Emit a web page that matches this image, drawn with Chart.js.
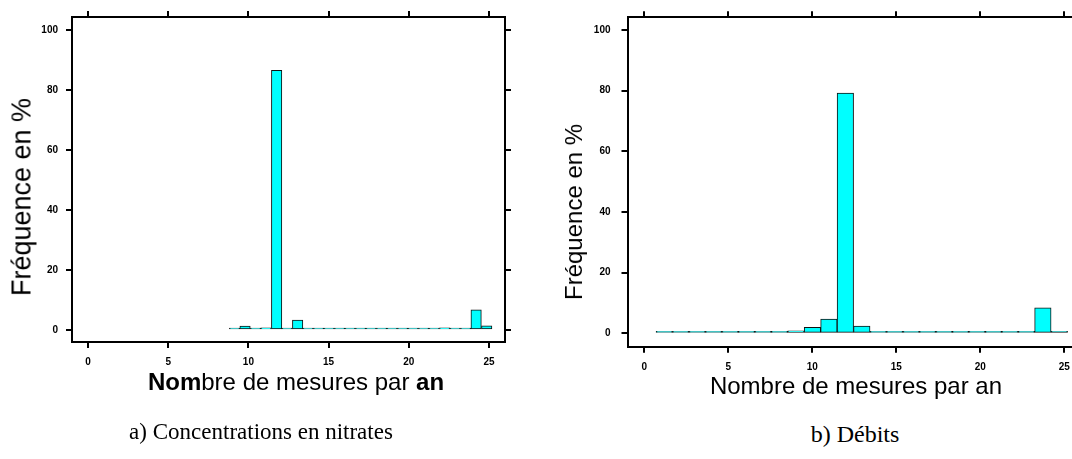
<!DOCTYPE html>
<html>
<head>
<meta charset="utf-8">
<script src="https://cdn.jsdelivr.net/npm/chart.js@4"></script>
<style>
  body { margin: 0; width: 1072px; height: 459px; overflow: hidden; background: #fff; position: relative; }
  canvas { position: absolute; top: 0; }
  .txt { position: absolute; white-space: nowrap; color: #000; transform: translate(-50%, -50%); }
  .sans { font-family: "Liberation Sans", Arial, sans-serif; }
  .serif { font-family: "Liberation Serif", "Times New Roman", serif; }
  .rot { transform: translate(-50%, -50%) rotate(-90deg); }
</style>
</head>
<body>
<canvas id="nitrates" width="536" height="380" style="left:0"></canvas>
<canvas id="debits" width="540" height="380" style="left:560px"></canvas>

<div class="txt sans rot" style="left:22px; top:197px; font-size:27px;">Fréquence en %</div>
<div class="txt sans" style="left:296px; top:382px; font-size:24px;"><b>Nom</b>bre de mesures par <b>an</b></div>
<div class="txt serif" style="left:261px; top:432px; font-size:23px;">a) Concentrations en nitrates</div>

<div class="txt sans rot" style="left:574px; top:212px; font-size:24px;">Fréquence en %</div>
<div class="txt sans" style="left:856px; top:386px; font-size:24px;">Nombre de mesures par an</div>
<div class="txt serif" style="left:855px; top:434px; font-size:24px;">b) Débits</div>

<script>
// tick labels shared by both histograms
const xTicks = [0, 5, 10, 15, 20, 25];
const yTicks = [0, 20, 40, 60, 80, 100];

// a) nitrates : bin centres and frequency (%)
const nitrateBins = [9.14, 9.79, 10.45, 11.10, 11.76, 12.41, 13.07, 13.72, 14.38, 15.03, 15.69, 16.34, 17.00,
  17.65, 18.31, 18.96, 19.62, 20.27, 20.93, 21.58, 22.24, 22.89, 23.55, 24.20, 24.86];
const nitrateFreq = [0.3, 1.3, 0.1, 0.7, 86.5, 0.1, 3.3, 0.1, 0.1, 0.1, 0.1, 0.1, 0.1,
  0.1, 0.1, 0.2, 0.1, 0.3, 0.1, 0.1, 0.7, 0.1, 0.1, 6.7, 1.4];

// b) debits : bin centres and frequency (%)
const debitBins = [1.19, 2.17, 3.15, 4.13, 5.11, 6.09, 7.07, 8.05, 9.03, 10.01, 10.99, 11.97, 12.95,
  13.93, 14.91, 15.89, 16.87, 17.85, 18.83, 19.81, 20.79, 21.77, 22.75, 23.73, 24.71];
const debitFreq = [0.3, 0.2, 0.1, 0.1, 0.2, 0.3, 0.3, 0.4, 0.8, 2.0, 4.7, 79.2, 2.4,
  0.1, 0.1, 0.1, 0.1, 0.4, 0.2, 0.2, 0.4, 0.1, 0.2, 8.4, 0.7];

function fixTicks(list) {
  return axis => { axis.ticks = list.map(v => ({ value: v })); };
}

function axis(pos, min, max, list, size, showLabels, pad) {
  const horizontal = pos === 'top' || pos === 'bottom';
  return {
    type: 'linear',
    position: pos,
    min: min,
    max: max,
    offset: false,
    afterBuildTicks: fixTicks(list),
    afterFit: s => { if (horizontal) s.height = size; else s.width = size; },
    grid: { offset: false, drawOnChartArea: false, drawTicks: true, tickLength: 6, color: '#000', lineWidth: 2 },
    border: { display: true, color: '#000', width: 2 },
    ticks: {
      display: showLabels,
      color: '#000',
      padding: pad,
      maxRotation: 0,
      autoSkip: false,
      font: { family: '"Liberation Sans", Arial, sans-serif', size: 10, weight: 'bold' }
    }
  };
}

function histogram(id, bins, freq, box) {
  const points = bins.map((b, i) => ({ x: b, y: freq[i] }));
  return new Chart(document.getElementById(id), {
    type: 'bar',
    data: {
      datasets: [{
        data: points,
        backgroundColor: '#00ffff',
        borderColor: '#111',
        borderWidth: 1,
        borderSkipped: false,
        minBarLength: 2,
        barPercentage: 1,
        categoryPercentage: 1
      }]
    },
    options: {
      responsive: false,
      animation: false,
      devicePixelRatio: 1,
      layout: { padding: 0 },
      plugins: { legend: { display: false }, tooltip: { enabled: false } },
      scales: {
        x: axis('bottom', -1, 26, xTicks, box.bottom, true, box.xPad),
        x2: axis('top', -1, 26, xTicks, box.top, false, 0),
        y: axis('left', box.yMin, box.yMax, yTicks, box.left, true, box.yPad),
        y2: axis('right', box.yMin, box.yMax, yTicks, box.right, false, 0)
      }
    }
  });
}

histogram('nitrates', nitrateBins, nitrateFreq,
  { left: 72, right: 31, top: 17, bottom: 38, yMin: -4, yMax: 104.3, xPad: 8, yPad: 8 });
histogram('debits', debitBins, debitFreq,
  { left: 67.5, right: 19, top: 17.3, bottom: 33.3, yMin: -4.4, yMax: 104.2, xPad: 9, yPad: 11 });
</script>
</body>
</html>
